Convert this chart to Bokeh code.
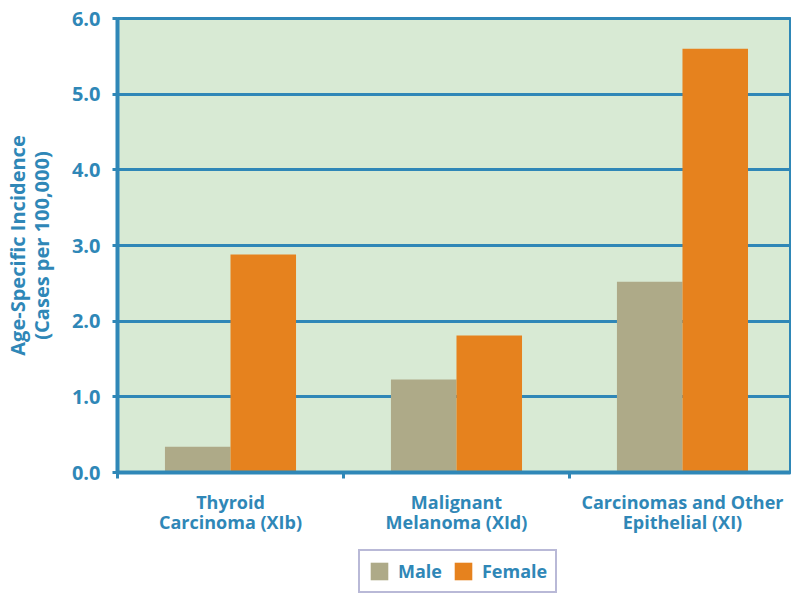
from bokeh.plotting import figure
from bokeh.layouts import column
from bokeh.models import Range1d, FixedTicker, Legend, LegendItem, ColumnDataSource
from bokeh.embed import file_html
from bokeh.resources import INLINE

categories = ["Thyroid\nCarcinoma (XIb)", "Malignant\nMelanoma (XId)", "Carcinomas and Other\nEpithelial (XI)"]
male = [0.34, 1.23, 2.52]
female = [2.88, 1.81, 5.60]
series_names = ["Male", "Female"]
y_ticks = [0, 1, 2, 3, 4, 5, 6]
y_tick_labels = ["0.0", "1.0", "2.0", "3.0", "4.0", "5.0", "6.0"]

BLUE = "#2f87b7"
MALE_C = "#aeaa88"
FEMALE_C = "#e6821e"
FONT = "Open Sans"

p = figure(width=791, height=545, output_backend="svg", toolbar_location=None,
           x_range=Range1d(0, 2.978), y_range=Range1d(0, 6))
p.min_border_left = 117
p.min_border_top = 18
p.min_border_right = 1
p.min_border_bottom = 73
p.background_fill_color = "#d8ead4"
p.border_fill_color = "white"
p.outline_line_color = BLUE
p.outline_line_width = 3

centers = [i + 0.5 for i in range(len(categories))]
src = ColumnDataSource(dict(xm=[c - 0.145 for c in centers], xf=[c + 0.145 for c in centers],
                            male=male, female=female))
p.vbar(x="xm", top="male", width=0.29, source=src, fill_color=MALE_C, line_color=None)
p.vbar(x="xf", top="female", width=0.29, source=src, fill_color=FEMALE_C, line_color=None)

# grid
p.xgrid.visible = False
p.ygrid.ticker = FixedTicker(ticks=y_ticks)
p.ygrid.grid_line_color = BLUE
p.ygrid.grid_line_width = 3
p.ygrid.level = "underlay"

# y axis
ya = p.yaxis[0]
ya.ticker = FixedTicker(ticks=y_ticks)
ya.major_label_overrides = {t: l for t, l in zip(y_ticks, y_tick_labels)}
ya.axis_line_color = BLUE
ya.axis_line_width = 4
ya.major_tick_line_color = BLUE
ya.major_tick_line_width = 3
ya.major_tick_out = 5
ya.major_tick_in = 0
ya.minor_tick_line_color = None
ya.major_label_text_color = BLUE
ya.major_label_text_font = FONT
ya.major_label_text_font_style = "bold"
ya.major_label_text_font_size = "20px"
ya.major_label_standoff = 12
ya.axis_label = "Age-Specific Incidence\n(Cases per 100,000)"
ya.axis_label_text_color = BLUE
ya.axis_label_text_font = FONT
ya.axis_label_text_font_style = "bold"
ya.axis_label_text_font_size = "20px"
ya.axis_label_text_line_height = 0.9
ya.axis_label_standoff = 14

# x axis
xa = p.xaxis[0]
xa.ticker = FixedTicker(ticks=centers, minor_ticks=[0, 1, 2])
xa.major_label_overrides = {c: l for c, l in zip(centers, categories)}
xa.axis_line_color = BLUE
xa.axis_line_width = 4
xa.major_tick_line_color = None
xa.minor_tick_line_color = BLUE
xa.minor_tick_line_width = 3
xa.minor_tick_out = 6
xa.minor_tick_in = 0
xa.major_label_text_color = BLUE
xa.major_label_text_font = FONT
xa.major_label_text_font_style = "bold"
xa.major_label_text_font_size = "18px"
xa.major_label_text_line_height = 0.85
xa.major_label_standoff = 11
xa.major_label_orientation = "horizontal"

# legend strip (frames are aligned with the main plot by the column layout)
lg = figure(width=791, height=48, output_backend="svg", toolbar_location=None,
            x_range=Range1d(0, 3), y_range=Range1d(0, 6))
lg.min_border_left = lg.min_border_right = lg.min_border_top = lg.min_border_bottom = 0
lg.axis.visible = False
lg.grid.visible = False
lg.outline_line_color = None
lg.background_fill_color = "white"
lg.border_fill_color = "white"
dm = lg.vbar(x="xm", top="male", width=0.29, source=src, fill_color=MALE_C, line_color=None)
df = lg.vbar(x="xf", top="female", width=0.29, source=src, fill_color=FEMALE_C, line_color=None)
dm.visible = False
df.visible = False
legend = Legend(items=[LegendItem(label=series_names[0], renderers=[dm]),
                       LegendItem(label=series_names[1], renderers=[df])],
                orientation="horizontal", location=(241, 0))
legend.border_line_color = "#7474b0"
legend.border_line_width = 2
legend.background_fill_color = "white"
legend.label_text_color = BLUE
legend.label_text_font = FONT
legend.label_text_font_style = "bold"
legend.label_text_font_size = "18px"
legend.glyph_width = 22
legend.glyph_height = 22
legend.spacing = 10
legend.padding = 8
legend.margin = 0
legend.label_standoff = 8
lg.add_layout(legend, "center")

layout = column(p, lg, spacing=0)
open("out.html", "w").write(file_html(layout, INLINE))
